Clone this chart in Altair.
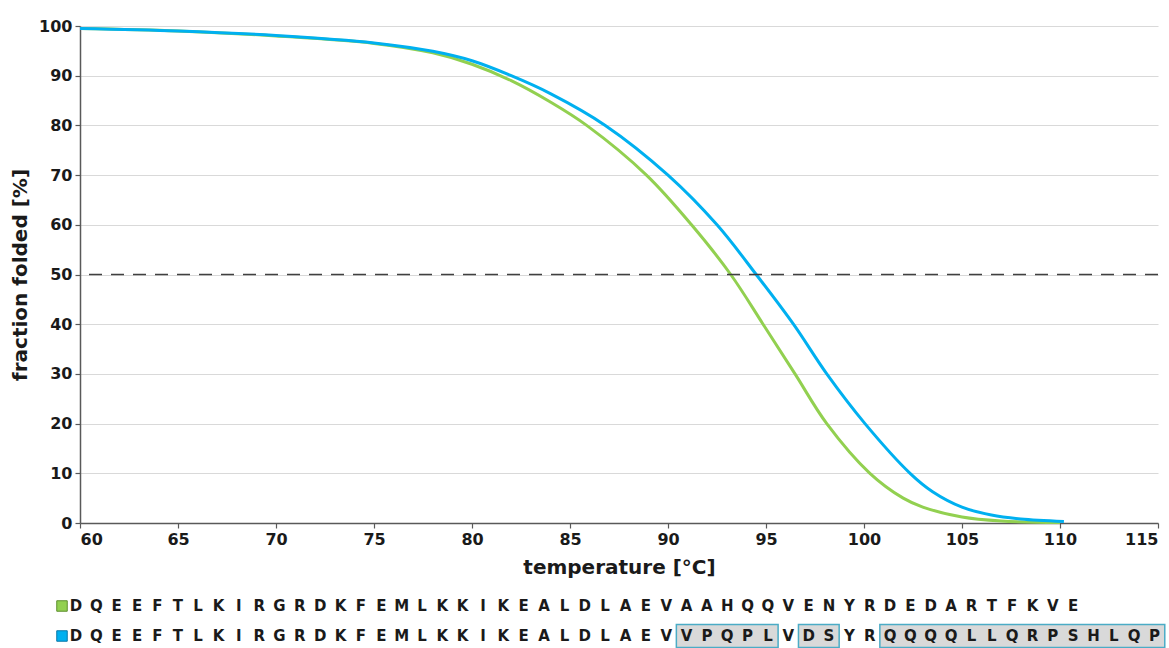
import altair as alt
import pandas as pd

# ---- curve data ----
temp_green = [60, 65, 70, 75, 78, 80, 82, 84, 85.85, 88.9, 91.2, 93.2, 94.85, 96.48,
              98.1, 100.3, 102, 103, 105, 107, 110]
frac_green = [99.5, 99.0, 98.0, 96.5, 94.6, 92.3, 89.0, 84.7, 80.0, 70.0, 60.0, 50.0, 40.0,
              30.0, 20.0, 10.0, 5.0, 3.2, 1.2, 0.4, 0.1]

temp_blue = [60, 65, 70, 75, 78, 80, 82, 84, 86.8, 90.0, 92.5, 94.5, 96.4, 98.1,
             100.05, 102.35, 103.5, 105, 106.5, 108, 110.2]
frac_blue = [99.5, 99.0, 98.1, 96.6, 94.9, 93.0, 90.0, 86.4, 80.0, 70.0, 60.0, 50.0, 40.0,
             30.0, 20.0, 10.0, 6.3, 3.2, 1.6, 0.8, 0.3]

half_level = [50]

x_ticks = [60, 65, 70, 75, 80, 85, 90, 95, 100, 105, 110, 115]
y_ticks = [0, 10, 20, 30, 40, 50, 60, 70, 80, 90, 100]

# ---- sequence legend ----
seq_rows = ["DQEEFTLKIRGRDKFEMLKKIKEALDLAEVAAHQQVENYRDEDARTFKVE",
            "DQEEFTLKIRGRDKFEMLKKIKEALDLAEVVPQPLVDSYRQQQQLLQRPSHLQP"]
row_index = [0, 1]
boxed_start = [30, 36, 40]
boxed_end = [34, 37, 53]
boxed_row = [1, 1, 1]

GREEN = "#92D050"
BLUE = "#00B0F0"
swatch_fill = [GREEN, BLUE]
swatch_edge = ["#5E8F2E", "#0A78A8"]

FONT = "DejaVu Sans"
TXT = "#1a1a1a"

green_df = pd.DataFrame({"temperature": temp_green, "fraction": frac_green})
blue_df = pd.DataFrame({"temperature": temp_blue, "fraction": frac_blue})

xs = alt.Scale(domain=[60, 115], nice=False, zero=False)
ys = alt.Scale(domain=[0, 100], nice=False, zero=True)

x_enc = alt.X("temperature:Q", scale=xs,
              axis=alt.Axis(values=x_ticks, title="temperature [°C]", grid=False,
                            tickSize=5, labelPadding=3, titlePadding=10, format="d"))
y_enc = alt.Y("fraction:Q", scale=ys,
              axis=alt.Axis(values=y_ticks, title="fraction folded [%]", grid=True,
                            tickSize=5, labelPadding=3, titlePadding=8, format="d"))

green_line = alt.Chart(green_df).mark_line(
    color=GREEN, strokeWidth=3, interpolate="catmull-rom").encode(x=x_enc, y=y_enc)
blue_line = alt.Chart(blue_df).mark_line(
    color=BLUE, strokeWidth=3, interpolate="catmull-rom").encode(x=x_enc, y=y_enc)

rule = alt.Chart(pd.DataFrame({"fraction": half_level})).mark_rule(
    color="#404040", strokeWidth=1.3, strokeDash=[13, 9]).encode(y=alt.Y("fraction:Q", scale=ys))

main = alt.layer(green_line, blue_line, rule)

# legend data
letters = []
for r, s in zip(row_index, seq_rows):
    for i, ch in enumerate(s):
        letters.append({"row": r, "slot": i, "letter": ch})
letters_df = pd.DataFrame(letters)

box_half = 0.38
boxes_df = pd.DataFrame({
    "x0": [a - 0.5 for a in boxed_start],
    "x1": [b + 0.5 for b in boxed_end],
    "y0": [r - box_half for r in boxed_row],
    "y1": [r + box_half for r in boxed_row],
})
swatch_df = pd.DataFrame({"row": row_index, "fill": swatch_fill, "edge": swatch_edge})

lx = alt.Scale(domain=[0, 53], range=[-4, 1074.6], nice=False, zero=False)
ly = alt.Scale(domain=[0, 1], range=[580, 610], nice=False, zero=False)

boxes = alt.Chart(boxes_df).mark_rect(
    fill="#D9D9D9", stroke="#4BACC6", strokeWidth=1.5).encode(
    x=alt.X("x0:Q", scale=lx, axis=None), x2="x1:Q",
    y=alt.Y("y0:Q", scale=ly, axis=None), y2="y1:Q")

letter_marks = alt.Chart(letters_df).mark_text(
    font=FONT, fontWeight="bold", fontSize=15, color=TXT, align="center", baseline="middle").encode(
    x=alt.X("slot:Q", scale=lx, axis=None),
    y=alt.Y("row:Q", scale=ly, axis=None),
    text="letter:N")

swatches = alt.Chart(swatch_df).mark_point(
    shape="square", filled=True, size=110, strokeWidth=1, opacity=1).encode(
    x=alt.value(-18),
    y=alt.Y("row:Q", scale=ly, axis=None),
    fill=alt.Fill("fill:N", scale=None),
    stroke=alt.Stroke("edge:N", scale=None))

legend = alt.layer(boxes, letter_marks, swatches)

chart = alt.layer(main, legend).resolve_scale(x="independent", y="independent").properties(
    width=1078, height=497,
    padding={"left": 80, "top": 26, "right": 11, "bottom": 125},
    autosize=alt.AutoSizeParams(type="none"),
).configure_view(stroke=None).configure_axis(
    labelFont=FONT, labelFontWeight="bold", labelFontSize=16, labelColor=TXT,
    titleFont=FONT, titleFontWeight="bold", titleFontSize=20, titleColor=TXT,
    domainColor="#595959", domainWidth=1.5, tickColor="#595959", tickWidth=1.2,
    gridColor="#D9D9D9", gridWidth=1,
)

chart.save("out.html", embed_options={"renderer": "svg", "actions": False})
